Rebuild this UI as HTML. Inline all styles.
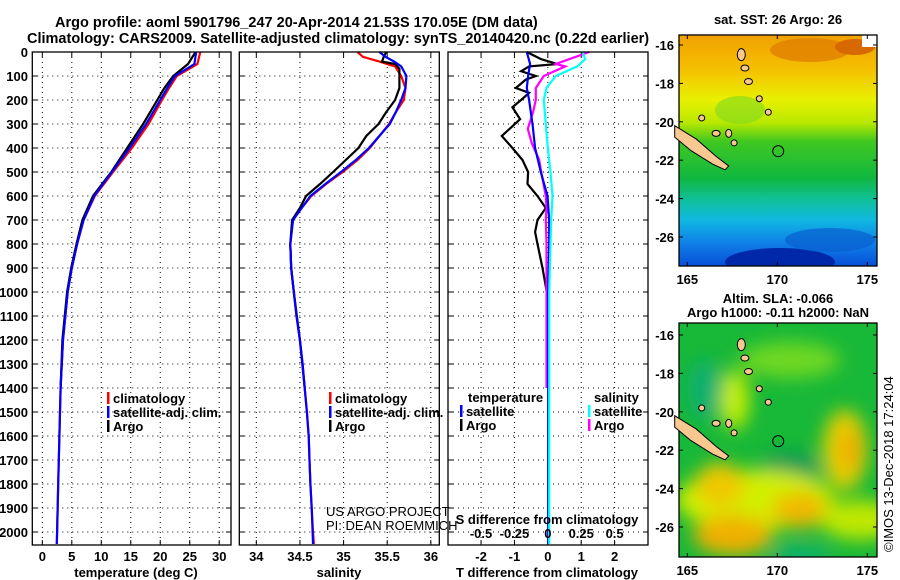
<!DOCTYPE html>
<html><head><meta charset="utf-8">
<style>
html,body{margin:0;padding:0;background:#fff;}
svg{display:block;font-family:"Liberation Sans",sans-serif;}
.b{font-weight:bold;font-size:13px;}
</style></head>
<body>
<svg id="chart" width="900" height="580" viewBox="0 0 900 580">
<defs>
<linearGradient id="sstg" x1="0" y1="0" x2="0" y2="1">
<stop offset="0" stop-color="#f0a000"/><stop offset="0.15" stop-color="#f5c000"/>
<stop offset="0.28" stop-color="#e8f000"/><stop offset="0.38" stop-color="#b8e800"/>
<stop offset="0.46" stop-color="#40c820"/><stop offset="0.62" stop-color="#10b840"/>
<stop offset="0.72" stop-color="#10c0a0"/><stop offset="0.8" stop-color="#10b8e0"/>
<stop offset="0.9" stop-color="#1080e8"/><stop offset="1" stop-color="#0850d8"/>
</linearGradient>
<filter id="blur"><feGaussianBlur stdDeviation="9"/></filter>
<clipPath id="m1c"><rect x="679" y="35" width="198" height="231"/></clipPath>
<clipPath id="m2c"><rect x="679" y="323" width="198" height="234"/></clipPath>
</defs>
<text x="55" y="27" style="font-weight:bold;font-size:14.5px">Argo profile: aoml 5901796_247 20-Apr-2014 21.53S 170.05E (DM data)</text>
<text x="27" y="43" style="font-weight:bold;font-size:14.5px">Climatology: CARS2009. Satellite-adjusted climatology: synTS_20140420.nc (0.22d earlier)</text>
<g id="panels"></g>
<g id="maps">
 <text x="778" y="24" text-anchor="middle" class="b">sat. SST: 26 Argo: 26</text>
 <g clip-path="url(#m1c)">
  <rect x="679" y="35" width="198" height="231" fill="url(#sstg)"/>
  <ellipse cx="810" cy="50" rx="40" ry="12" fill="#e08000" opacity="0.8"/>
  <ellipse cx="855" cy="47" rx="20" ry="8" fill="#d86800"/>
  <rect x="862" y="35" width="15" height="12" fill="#fff"/>
  <ellipse cx="780" cy="262" rx="55" ry="14" fill="#0028a8"/>
  <ellipse cx="830" cy="240" rx="45" ry="12" fill="#0860d0" opacity="0.7"/>
  <ellipse cx="740" cy="110" rx="25" ry="14" fill="#80d820" opacity="0.6"/>
 </g>
 <g clip-path="url(#m2c)">
  <rect x="679" y="323" width="198" height="234" fill="#18b838"/>
  <g filter="url(#blur)">
   <ellipse cx="790" cy="360" rx="50" ry="18" fill="#70d820"/>
   <ellipse cx="735" cy="400" rx="14" ry="30" fill="#c8f000"/>
   <ellipse cx="705" cy="390" rx="18" ry="30" fill="#10b070"/>
   <ellipse cx="790" cy="470" rx="30" ry="18" fill="#109858"/>
   <ellipse cx="755" cy="500" rx="80" ry="30" fill="#d0f000"/>
   <ellipse cx="720" cy="485" rx="25" ry="22" fill="#f0c800"/>
   <ellipse cx="733" cy="535" rx="40" ry="20" fill="#f0b000"/>
   <ellipse cx="800" cy="510" rx="28" ry="18" fill="#f0b800"/>
   <ellipse cx="845" cy="450" rx="22" ry="40" fill="#e8d000"/>
   <ellipse cx="850" cy="450" rx="10" ry="22" fill="#f0a800"/>
   <ellipse cx="860" cy="520" rx="40" ry="20" fill="#c0e800"/>
   <ellipse cx="800" cy="557" rx="30" ry="12" fill="#10b070"/>
  </g>
 </g>
</g>
<text transform="translate(893,552) rotate(-90)" style="font-size:13px">©IMOS 13-Dec-2018 17:24:04</text>
</svg>
<script>
const depthsT=[0,50,100,150,200,300,400,500,600,700,800,900,1000,1200,1400,1600,1800,2000,2050];
const tempClim=[26.8,26.3,22.8,21.5,20.3,18.0,15.2,12.0,8.9,7.0,5.9,5.0,4.3,3.5,3.1,2.9,2.7,2.5,2.45];
const tempSat=[26.1,25.8,22.5,21.2,20.0,17.6,14.8,11.8,8.8,7.0,5.9,5.0,4.3,3.5,3.1,2.9,2.7,2.5,2.45];
const depthsArgo=[0,50,100,150,200,300,400,500,600,700,800,900,1000,1200,1400];
const tempArgo=[26.0,24.7,22.2,20.7,19.5,17.1,14.4,11.7,8.6,6.8,5.8,4.9,4.2,3.4,3.1];
const depthsS=[0,20,40,60,100,150,200,250,300,400,450,500,550,600,650,700,800,900,1000,1100,1200,1300,1400,1500,1600,1700,1800,1900,2000,2050];
const salClim=[35.16,35.22,35.41,35.59,35.66,35.71,35.69,35.60,35.52,35.30,35.16,34.99,34.80,34.63,34.52,34.42,34.39,34.40,34.43,34.46,34.50,34.53,34.555,34.58,34.60,34.61,34.62,34.635,34.65,34.66];
const salSat=[35.41,35.48,35.58,35.66,35.72,35.71,35.66,35.60,35.53,35.29,35.14,34.97,34.79,34.62,34.52,34.42,34.39,34.40,34.43,34.46,34.50,34.53,34.555,34.58,34.60,34.61,34.62,34.635,34.645,34.65];
const depthsSA=[0,20,40,50,70,100,150,200,250,300,350,400,500,550,600,650,700,800,900,1000,1200,1400];
const salArgo=[35.49,35.46,35.44,35.59,35.64,35.64,35.64,35.59,35.49,35.40,35.26,35.17,34.88,34.73,34.57,34.50,34.41,34.39,34.40,34.43,34.50,34.555];
const dDepthT=[0,30,50,60,80,100,115,150,170,200,230,280,350,400,450,500,550,600,650,700,750,800,900,1000,1400];
const dTempArgo=[-0.63,-0.2,0.29,-0.56,-0.8,-0.36,-0.66,-0.96,-0.56,-0.8,-1.06,-0.83,-1.38,-1.06,-0.76,-0.59,-0.61,-0.31,-0.06,-0.31,-0.38,-0.31,-0.16,-0.03,-0.02];
const dDepthTS=[0,50,100,150,200,300,400,500,600,700,800,1000,1500,2050];
const dTempSat=[-0.63,-0.53,-0.59,-0.63,-0.56,-0.46,-0.38,-0.21,-0.01,0.04,0.04,0.01,0.01,0.01];
const dDepthSA=[0,50,60,100,150,200,250,320,380,450,500,600,650,700,800,1000,1400];
const dSalArgo=[0.31,0.06,0.13,-0.03,-0.09,-0.09,-0.11,-0.15,-0.12,-0.065,-0.05,-0.015,-0.01,-0.015,-0.01,-0.01,-0.01];
const dDepthSS=[0,30,60,100,150,200,300,400,500,600,700,800,1000,2050];
const dSalSat=[0.26,0.28,0.22,0.06,-0.01,-0.03,-0.015,0.0,0.02,0.035,0.025,0.02,0.01,0.01];
const depthTicks=[0,100,200,300,400,500,600,700,800,900,1000,1100,1200,1300,1400,1500,1600,1700,1800,1900,2000];
const tTicks=[0,5,10,15,20,25,30];
const sTicks=[34,34.5,35,35.5,36];
const sTickLabels=['34','34.5','35','35.5','36'];
const dtTicks=[-2,-1,0,1,2];
const dsTicks=[-0.5,-0.25,0,0.25,0.5];
const dsTickLabels=['-0.5','-0.25','0','0.25','0.5'];

const NS='http://www.w3.org/2000/svg';
const root=document.getElementById('panels');
const TOP=52,BOT=545,DMAX=(BOT-TOP)/0.24;
const yS=d=>TOP+d*0.24;
function el(tag,attrs,parent,txt){const e=document.createElementNS(NS,tag);for(const k in attrs)e.setAttribute(k,attrs[k]);if(txt!==undefined)e.textContent=txt;(parent||root).appendChild(e);return e;}
function panel(name,x0,x1,vmin,vmax){
  const g=el('g',{});
  
  
  return {g,x0,x1,xs:v=>x0+(v-vmin)/(vmax-vmin)*(x1-x0)};
}
const P1=panel('temperature-panel',32.3,231,-1.7,32);
const P2=panel('salinity-panel',239.3,439.3,33.805,36.097);
const P3=panel('difference-panel',448,648,-2.99,3.0);
const dsx=v=>P3.xs(v*4);
function grid(P,ticks,labels,labelY){
  const g=P.g;
  ticks.forEach((t,i)=>{const x=P.xs(t);
    const l=el('line',{x1:x,x2:x,y1:TOP,y2:BOT,stroke:'#000','stroke-dasharray':'1 4','stroke-width':1},g);
    
    
    el('line',{x1:x,x2:x,y1:BOT,y2:BOT-5,stroke:'#000'},g);
    el('line',{x1:x,x2:x,y1:TOP,y2:TOP+5,stroke:'#000'},g);
    if(labels){const tx=el('text',{x:x,y:labelY,'text-anchor':'middle',class:'b'},g,labels[i]);
      
      }
  });
  depthTicks.forEach(d=>{const y=yS(d);
    el('line',{x1:P.x0,x2:P.x1,y1:y,y2:y,stroke:'#000','stroke-dasharray':'1 4'},g);
    el('line',{x1:P.x0,x2:P.x0+5,y1:y,y2:y,stroke:'#000'},g);
    el('line',{x1:P.x1-5,x2:P.x1,y1:y,y2:y,stroke:'#000'},g);
  });
}
function line(P,xf,vals,deps,color,name,w){
  const pts=vals.map((v,i)=>xf(v).toFixed(1)+','+yS(deps[i]).toFixed(1)).join(' ');
  const p=el('polyline',{points:pts,fill:'none',stroke:color,'stroke-width':w||2.2},P.g);
  
  
}
function frame(P){const r=el('rect',{x:P.x0,y:TOP,width:P.x1-P.x0,height:BOT-TOP,fill:'none',stroke:'#000','stroke-width':1.3},P.g);
  
  }
function legend(P,x,y,items){items.forEach((it,i)=>{
  el('rect',{x:x,y:y+i*14-11,width:2.5,height:12,fill:it[1]},P.g);
  const t=el('text',{x:x+6,y:y+i*14,class:'b'},P.g,it[0]);
  
  });}

// panel 1
grid(P1,tTicks,tTicks.map(String),561);
depthTicks.forEach(d=>{const t=el('text',{x:28,y:yS(d)+5,'text-anchor':'end',class:'b'},P1.g,String(d));
  
  });
line(P1,P1.xs,tempClim,depthsT,'#f00','temp-climatology-line');
line(P1,P1.xs,tempArgo,depthsArgo,'#000','temp-argo-line');
line(P1,P1.xs,tempSat,depthsT,'#00f','temp-satellite-line');
frame(P1);
legend(P1,107,403,[['climatology','#f00'],['satellite-adj. clim.','#00f'],['Argo','#000']]);
let t=el('text',{x:136,y:577,'text-anchor':'middle',class:'b'},P1.g,'temperature (deg C)');



// panel 2
grid(P2,sTicks,sTickLabels,561);
line(P2,P2.xs,salClim,depthsS,'#f00','sal-climatology-line');
line(P2,P2.xs,salArgo,depthsSA,'#000','sal-argo-line');
line(P2,P2.xs,salSat,depthsS,'#00f','sal-satellite-line');
frame(P2);
legend(P2,329,403,[['climatology','#f00'],['satellite-adj. clim.','#00f'],['Argo','#000']]);
t=el('text',{x:326,y:516,style:'font-size:13px'},P2.g,'US ARGO PROJECT');


t=el('text',{x:326,y:530,style:'font-size:13px'},P2.g,'PI: DEAN ROEMMICH');


t=el('text',{x:339,y:577,'text-anchor':'middle',class:'b'},P2.g,'salinity');



// panel 3
grid(P3,dtTicks,dtTicks.map(String),561);
line(P3,P3.xs,dTempArgo,dDepthT,'#000','tdiff-argo-line');
line(P3,dsx,dSalArgo,dDepthSA,'#f0f','sdiff-argo-line');
line(P3,P3.xs,dTempSat,dDepthTS,'#00f','tdiff-satellite-line');
line(P3,dsx,dSalSat,dDepthSS,'#0ff','sdiff-satellite-line');
frame(P3);
dsTicks.forEach((v,i)=>{const tx=el('text',{x:dsx(v),y:538,'text-anchor':'middle',class:'b'},P3.g,dsTickLabels[i]);
  
  });
t=el('text',{x:547,y:524,'text-anchor':'middle',class:'b'},P3.g,'S difference from climatology');


t=el('text',{x:547,y:577,'text-anchor':'middle',class:'b'},P3.g,'T difference from climatology');


t=el('text',{x:468,y:402,class:'b'},P3.g,'temperature');


t=el('text',{x:594,y:402,class:'b'},P3.g,'salinity');


legend(P3,460,416,[['satellite','#00f'],['Argo','#000']]);
legend(P3,588,416,[['satellite','#0ff'],['Argo','#f0f']]);

// maps axes
const mg=document.getElementById('maps');
const lonTicks=[165,170,175];
const latTicks=[-16,-18,-20,-22,-24,-26];
function mapAxes(y0,y1,lat16y,name){
  const xs=lon=>687.3+(lon-165)*18, ys=lat=>lat16y+(-16-lat)*19.2;
  const r=el('rect',{x:679,y:y0,width:198,height:y1-y0,fill:'none',stroke:'#000','stroke-width':1.3},mg);
  
  
  lonTicks.forEach(l=>{const x=xs(l);el('line',{x1:x,x2:x,y1:y1,y2:y1-4,stroke:'#000'},mg);el('line',{x1:x,x2:x,y1:y0,y2:y0+4,stroke:'#000'},mg);
    const tx=el('text',{x:x,y:y1+18,'text-anchor':'middle',class:'b'},mg,String(l));
    
    });
  latTicks.forEach(l=>{const y=ys(l);el('line',{x1:679,x2:683,y1:y,y2:y,stroke:'#000'},mg);el('line',{x1:873,x2:877,y1:y,y2:y,stroke:'#000'},mg);
    const tx=el('text',{x:674,y:y+5,'text-anchor':'end',class:'b'},mg,String(l));
    
    });
  // New Caledonia & islands
  const nc=[[164.3,-20.2],[165.5,-20.9],[166.6,-21.8],[167.3,-22.3],[167.1,-22.5],[166.4,-22.2],[165.2,-21.5],[164.3,-20.8]];
  const p=el('polygon',{points:nc.map(q=>xs(q[0])+','+ys(q[1])).join(' '),fill:'#f8c890',stroke:'#000','stroke-width':1},mg);
  
  
  [[168.0,-16.5,4,6],[168.2,-17.2,4,3],[168.4,-17.9,4,3],[169.0,-18.8,3,3],[169.5,-19.5,3,3],[167.3,-20.6,3,4],[167.6,-21.1,3,3],[166.6,-20.6,4,3],[165.8,-19.8,3,3]].forEach(q=>{
    const e=el('ellipse',{cx:xs(q[0]),cy:ys(q[1]),rx:q[2],ry:q[3],fill:'#f8c890',stroke:'#000'},mg);
    
    });
  const c=el('circle',{cx:xs(170.05),cy:ys(-21.53),r:5.5,fill:'none',stroke:'#000','stroke-width':1},mg);
  
  
}
mapAxes(35,266,45,'sst-map');
mapAxes(323,557,335,'sla-map');
t=el('text',{x:778,y:303,'text-anchor':'middle',class:'b'},mg,'Altim. SLA: -0.066');


t=el('text',{x:778,y:317,'text-anchor':'middle',class:'b'},mg,'Argo h1000: -0.11 h2000: NaN');


</script>
</body></html>
